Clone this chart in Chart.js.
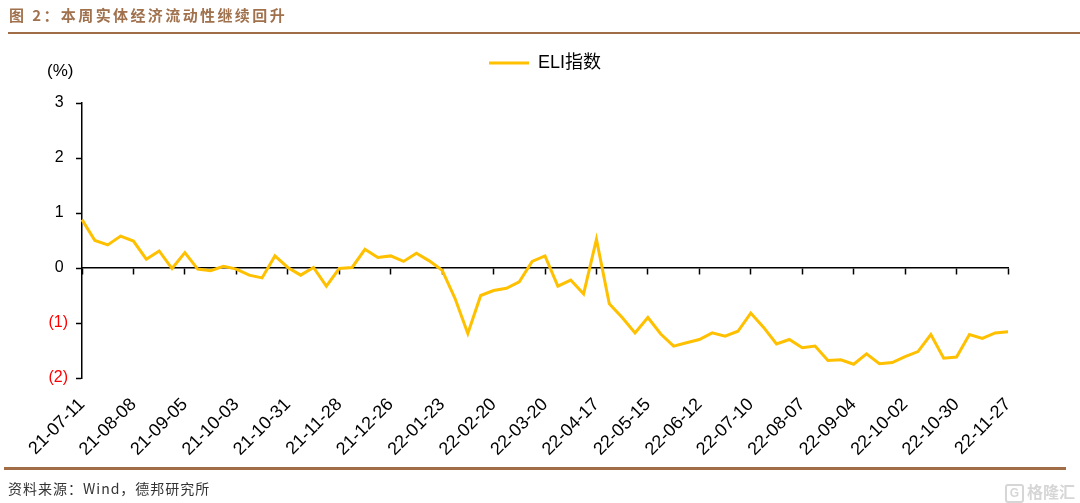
<!DOCTYPE html>
<html>
<head>
<meta charset="utf-8">
<script src="https://cdn.jsdelivr.net/npm/chart.js@4.4.1/dist/chart.umd.min.js"></script>
<style>
  html,body{margin:0;padding:0;background:#fff}
  #wrap{position:relative;width:1080px;height:503px;overflow:hidden;font-family:"Liberation Sans","Noto Sans CJK SC",sans-serif}
  #chart{position:absolute;left:0;top:0}
  #title{position:absolute;left:9px;top:4px;font:bold 15px "Noto Sans CJK SC",sans-serif;color:#a0714d;letter-spacing:2.4px;white-space:nowrap}
  .rule{position:absolute;height:2px;background:#a06d47}
  #unit{position:absolute;left:47px;top:61px;font-size:17px;color:#000}
  #src{position:absolute;left:8px;top:478px;font:14px "Noto Sans CJK SC","Liberation Sans",sans-serif;color:#333;letter-spacing:1px}
  #mark{position:absolute;left:1005px;top:479px;font:bold 16px "Noto Sans CJK SC",sans-serif;color:#d6d6d6;white-space:nowrap}
  #mark b{display:inline-block;width:15px;height:15px;line-height:15px;border:2px solid #d6d6d6;border-radius:3px;text-align:center;font:bold 12px "Liberation Sans";margin-right:3px;vertical-align:1px}
</style>
</head>
<body>
<div id="wrap">
  <canvas id="chart" width="1080" height="503"></canvas>
  <div id="title">图 2：本周实体经济流动性继续回升</div>
  <div class="rule" style="left:8px;right:0;top:32px"></div>
  <div id="unit">(%)</div>
  <div class="rule" style="left:4px;width:1062px;top:467px;height:3px"></div>
  <div id="src">资料来源：Wind，德邦研究所</div>
  <div id="mark"><b>G</b>格隆汇</div>
</div>
<script>
// weekly dates (yy-mm-dd)
const categories = [
  '21-07-11','21-07-18','21-07-25','21-08-01','21-08-08','21-08-15','21-08-22','21-08-29',
  '21-09-05','21-09-12','21-09-19','21-09-26','21-10-03','21-10-10','21-10-17','21-10-24',
  '21-10-31','21-11-07','21-11-14','21-11-21','21-11-28','21-12-05','21-12-12','21-12-19',
  '21-12-26','22-01-02','22-01-09','22-01-16','22-01-23','22-01-30','22-02-06','22-02-13',
  '22-02-20','22-02-27','22-03-06','22-03-13','22-03-20','22-03-27','22-04-03','22-04-10',
  '22-04-17','22-04-24','22-05-01','22-05-08','22-05-15','22-05-22','22-05-29','22-06-05',
  '22-06-12','22-06-19','22-06-26','22-07-03','22-07-10','22-07-17','22-07-24','22-07-31',
  '22-08-07','22-08-14','22-08-21','22-08-28','22-09-04','22-09-11','22-09-18','22-09-25',
  '22-10-02','22-10-09','22-10-16','22-10-23','22-10-30','22-11-06','22-11-13','22-11-20',
  '22-11-27'
];
const eliValues = [
  0.88,0.50,0.42,0.58,0.49,0.16,0.31,-0.01,0.28,-0.02,
  -0.05,0.03,-0.02,-0.13,-0.18,0.22,0.01,-0.13,0.01,-0.33,
  -0.01,0.01,0.34,0.19,0.22,0.12,0.27,0.13,-0.04,-0.55,
  -1.19,-0.50,-0.41,-0.37,-0.25,0.12,0.22,-0.33,-0.22,-0.47,
  0.52,-0.65,-0.90,-1.18,-0.90,-1.20,-1.42,-1.36,-1.30,-1.18,
  -1.24,-1.15,-0.82,-1.08,-1.38,-1.30,-1.45,-1.42,-1.68,-1.67,
  -1.75,-1.56,-1.74,-1.72,-1.61,-1.52,-1.21,-1.64,-1.62,-1.21,
  -1.28,-1.18,-1.16
];
const tickLabels = [
  '21-07-11','21-08-08','21-09-05','21-10-03','21-10-31','21-11-28','21-12-26',
  '22-01-23','22-02-20','22-03-20','22-04-17','22-05-15','22-06-12','22-07-10',
  '22-08-07','22-09-04','22-10-02','22-10-30','22-11-27'
];
const yTicks = [3,2,1,0,-1,-2];

const FONT = '"Liberation Sans","Noto Sans CJK SC",sans-serif';
const isTick = (i)=> tickLabels.includes(categories[i]);
// Excel-style "0_);(0)": positives keep a trailing gap so digits line up
const fmtY = (v)=> v < 0 ? '(' + (-v) + ')' : v + ' ';

// extra room under the legend
const legendGap = {
  id:'legendGap',
  beforeInit(chart){
    const fit = chart.legend.fit;
    chart.legend.fit = function(){ fit.bind(this)(); this.height += 21; };
  }
};

new Chart(document.getElementById('chart'), {
  type:'line',
  data:{
    labels: categories,
    datasets:[{
      label:'ELI指数',
      data: eliValues,
      borderColor:'#FFC000',
      backgroundColor:'#FFC000',
      borderWidth:3,
      pointRadius:0,
      tension:0,
      fill:false
    }]
  },
  options:{
    responsive:false,
    animation:false,
    layout:{ padding:{ top:44, left:10, right:72, bottom:0 } },
    plugins:{
      legend:{
        position:'top',
        fullSize:false,
        labels:{
          usePointStyle:true, pointStyle:'line', pointStyleWidth:40,
          color:'#000', font:{ family:FONT, size:18 }, padding:10
        }
      },
      tooltip:{ enabled:false }
    },
    scales:{
      x:{
        type:'category',
        position:'bottom',
        offset:false,
        grid:{ display:false, drawTicks:false },
        border:{ display:false },
        ticks:{
          autoSkip:false, maxRotation:45, minRotation:45, padding:16,
          color:'#000', font:{ family:FONT, size:18 },
          callback:(v,i)=> isTick(i) ? categories[i] : null
        },
        afterFit:(s)=>{ s.height = 125; }
      },
      xZero:{
        type:'category',
        axis:'x',
        position:{ y:0 },
        offset:false,
        grid:{
          drawOnChartArea:false, drawTicks:true, tickLength:6, tickWidth:1.5,
          tickColor:(c)=> isTick(c.index) ? '#000' : 'rgba(0,0,0,0)'
        },
        border:{ display:true, color:'#000', width:1.5 },
        ticks:{ display:false, autoSkip:false }
      },
      y:{
        min:-2, max:3,
        afterBuildTicks:(s)=>{ s.ticks = yTicks.map(v=>({value:v})); },
        grid:{ drawOnChartArea:false, tickLength:6, tickColor:'#000', tickWidth:1.5 },
        border:{ display:true, color:'#000', width:1.5 },
        ticks:{
          padding:8, font:{ family:FONT, size:16 },
          color:(c)=> c.tick && c.tick.value < 0 ? '#FF0000' : '#000',
          callback:(v)=> fmtY(v)
        },
        afterFit:(s)=>{ s.width = 72; }
      }
    }
  },
  plugins:[legendGap]
});
</script>
</body>
</html>
